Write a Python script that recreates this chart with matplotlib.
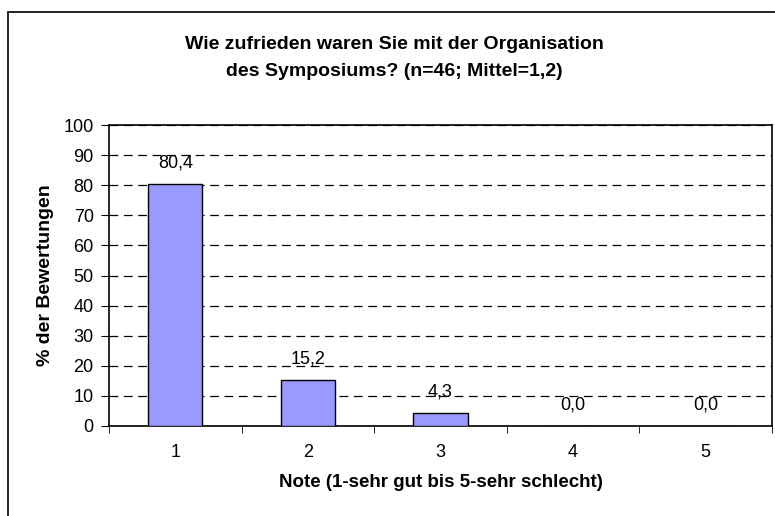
import matplotlib.pyplot as plt
from matplotlib.patches import Rectangle

plt.rcParams['font.family'] = ['Liberation Sans', 'DejaVu Sans']

noten = ["1", "2", "3", "4", "5"]
prozent = [80.4, 15.2, 4.3, 0.0, 0.0]
y_ticks = [0, 10, 20, 30, 40, 50, 60, 70, 80, 90, 100]

fig = plt.figure(figsize=(7.75, 5.16), dpi=100)
ax = fig.add_axes([109 / 775, 1 - 426 / 516, (772 - 109) / 775, (426 - 125) / 516])

# Rahmen um die Grafik (nur links/oben sichtbar)
fig.patches.append(Rectangle((8 / 775, -0.1), 1.2, 1 - 12 / 516 + 0.1,
                             transform=fig.transFigure, fill=False,
                             edgecolor="black", linewidth=1.2))

x = list(range(len(noten)))
ax.bar(x, prozent, width=0.41, color="#9999FF", edgecolor="black", linewidth=1, zorder=3)

for xi, v in zip(x, prozent):
    ax.annotate(f"{v:.1f}".replace(".", ","), (xi, v), xytext=(0, 15), textcoords="offset points",
                ha="center", va="center", fontsize=13, zorder=4)

ax.set_xlim(-0.5, len(noten) - 0.5)
ax.set_ylim(0, 100)
ax.set_yticks(y_ticks)
ax.set_yticklabels([str(t) for t in y_ticks], fontsize=13)
ax.set_xticks(x)
ax.set_xticklabels(noten, fontsize=13)
ax.tick_params(axis="x", length=0, pad=13)
ax.set_xticks([i - 0.5 for i in range(len(noten) + 1)], minor=True)
ax.tick_params(axis="x", which="minor", length=5, direction="out")
ax.tick_params(axis="y", length=6, direction="out", pad=5)

ax.yaxis.grid(True, linestyle=(0, (7, 4.5)), color="black", linewidth=0.9, zorder=0)
ax.set_axisbelow(True)
for s in ax.spines.values():
    s.set_linewidth(1.2)

ax.set_ylabel("% der Bewertungen", fontsize=14, fontweight="bold", labelpad=7)
ax.set_xlabel("Note (1-sehr gut bis 5-sehr schlecht)", fontsize=13.5, fontweight="bold", labelpad=9)

fig.text(394 / 775, 1 - 58 / 516, "Wie zufrieden waren Sie mit der Organisation\ndes Symposiums? (n=46; Mittel=1,2)",
         ha="center", va="center", fontsize=14, fontweight="bold", linespacing=1.7)

fig.savefig("out.png", dpi=100)
